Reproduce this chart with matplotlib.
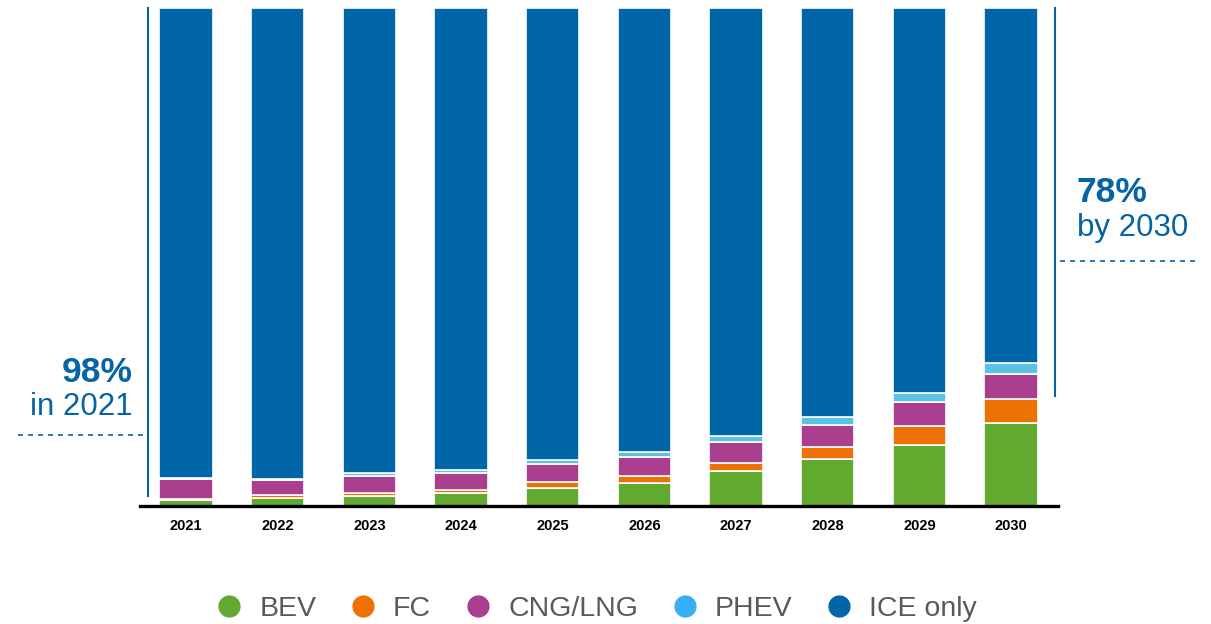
import matplotlib
matplotlib.use("Agg")
import matplotlib.pyplot as plt
from matplotlib.lines import Line2D
import numpy as np

plt.rcParams['font.family'] = ['Liberation Sans', 'DejaVu Sans']

years = ["2021", "2022", "2023", "2024", "2025", "2026", "2027", "2028", "2029", "2030"]
bev = [1.2, 1.7, 2.0, 2.6, 3.7, 4.6, 7.0, 9.4, 12.2, 16.6]
fc = [0.3, 0.6, 0.7, 0.7, 1.1, 1.5, 1.6, 2.4, 3.8, 4.8]
cng = [4.0, 2.9, 3.3, 3.4, 3.6, 3.8, 4.3, 4.5, 4.8, 5.1]
phev = [0.2, 0.3, 0.6, 0.6, 0.8, 0.9, 1.2, 1.5, 1.8, 2.2]
ice = [100 - a - b - c - d for a, b, c, d in zip(bev, fc, cng, phev)]

series_names = ["BEV", "FC", "CNG/LNG", "PHEV", "ICE only"]
bar_colors = ["#62AA2F", "#EE7203", "#A93F8E", "#5BC2E7", "#0066A7"]
legend_colors = ["#62AA2F", "#EE7203", "#A93F8E", "#35B0F5", "#0066A7"]

W, H = 1211, 624
fig = plt.figure(figsize=(W / 100, H / 100), dpi=100)
ax = fig.add_axes([140 / W, 1 - 506 / H, 918 / W, 498 / H])

x = np.arange(len(years))
bottom = np.zeros(len(years))
for vals, col in zip([bev, fc, cng, phev, ice], bar_colors):
    ax.bar(x, vals, bottom=bottom, width=0.58, color=col, edgecolor="white", linewidth=1.2)
    bottom += np.array(vals)

ax.set_xlim(-0.502, 9.513)
ax.set_ylim(0, 100)
for s in ["left", "right", "top"]:
    ax.spines[s].set_visible(False)
ax.spines["bottom"].set_linewidth(2.4)
ax.spines["bottom"].set_color("black")
ax.set_yticks([])
ax.set_xticks(x)
ax.set_xticklabels(years, fontsize=10.5, fontweight="bold")
ax.tick_params(axis="x", length=0, pad=9)

blue = "#0563A6"
# vertical bracket lines
ax.plot([-0.415, -0.415], [2, 100], color=blue, lw=1.5, clip_on=False)
ax.plot([9.48, 9.48], [22, 100], color=blue, lw=1.5, clip_on=False)

def fx(px):
    return px / W

def fy(py):
    return 1 - py / H

fig.text(fx(133), fy(372), "98%", fontsize=25.5, fontweight="bold", color=blue, ha="right", va="center")
fig.text(fx(133), fy(407), "in 2021", fontsize=22.5, color=blue, ha="right", va="center")
fig.add_artist(Line2D([fx(18), fx(147)], [fy(435), fy(435)], color=blue, lw=1.2, ls=(0, (3, 3))))

fig.text(fx(1077), fy(193), "78%", fontsize=25.5, fontweight="bold", color=blue, ha="left", va="center")
fig.text(fx(1077), fy(228), "by 2030", fontsize=22.5, color=blue, ha="left", va="center")
fig.add_artist(Line2D([fx(1060), fx(1196)], [fy(261), fy(261)], color=blue, lw=1.2, ls=(0, (3, 3))))

handles = [Line2D([], [], marker="o", ls="none", markersize=15, markerfacecolor=c, markeredgecolor=c)
           for c in legend_colors]
leg = fig.legend(handles, series_names, loc="center", bbox_to_anchor=(fx(596), fy(609)), ncol=5,
                 frameon=False, fontsize=20.5, handletextpad=0.55, columnspacing=1.15,
                 labelcolor="#595959", handlelength=1.0)

fig.savefig("out.png", dpi=100)
